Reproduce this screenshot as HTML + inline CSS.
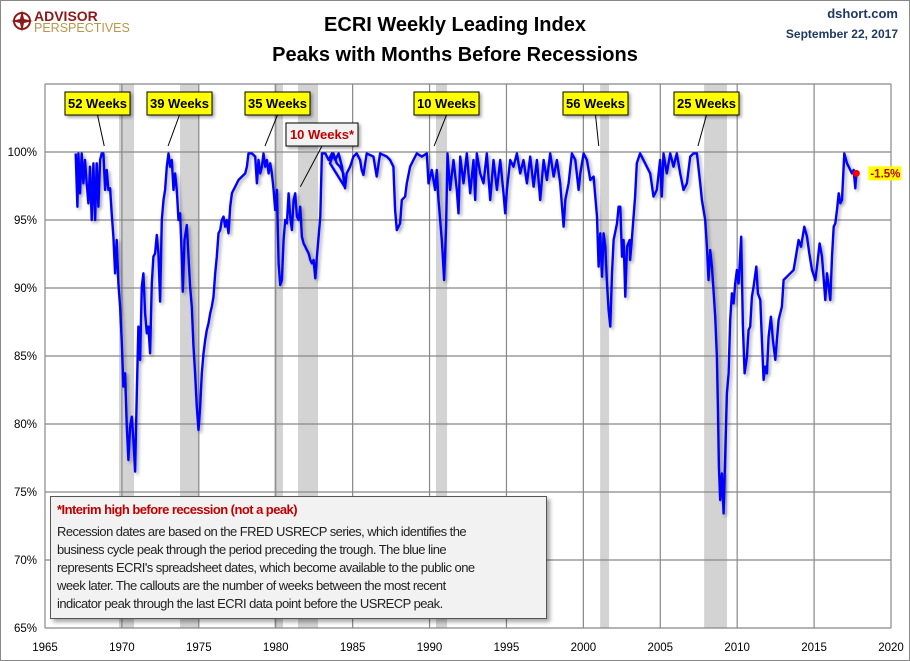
<!DOCTYPE html>
<html><head><meta charset="utf-8"><style>
body{margin:0;background:#fff;}
#wrap{position:relative;width:910px;height:661px;overflow:hidden;font-family:"Liberation Sans",sans-serif;}
svg text{font-family:"Liberation Sans",sans-serif;}
</style></head><body>
<div id="wrap">
<svg id="chart" width="910" height="661">
<defs>
<filter id="sh" x="-10%" y="-10%" width="130%" height="130%"><feDropShadow dx="2" dy="2" stdDeviation="1.5" flood-color="#000" flood-opacity="0.35"/></filter>
</defs>
<rect x="0.5" y="0.5" width="909" height="660" fill="#fff" stroke="#888"/>
<g>
<circle cx="22" cy="21" r="8" fill="none" stroke="#8b1a1a" stroke-width="2"/>
<path d="M22 10 L24 19 L33 21 L24 23 L22 32 L20 23 L11 21 L20 19 Z" fill="#8b1a1a"/>
<text x="34" y="21" font-size="14" font-weight="bold" fill="#8b1a1a">ADVISOR</text>
<text x="34" y="32" font-size="12.5" fill="#b8964a">PERSPECTIVES</text>
</g>
<text x="455" y="31" text-anchor="middle" font-size="20" font-weight="bold" fill="#000">ECRI Weekly Leading Index</text>
<text x="455" y="61" text-anchor="middle" font-size="20" font-weight="bold" fill="#000">Peaks with Months Before Recessions</text>
<text x="898" y="18" text-anchor="end" font-size="13" font-weight="bold" fill="#1f3864">dshort.com</text>
<text x="898" y="38" text-anchor="end" font-size="12" font-weight="bold" fill="#1f3864">September 22, 2017</text>
<g id="rec"></g><g id="grid"></g><g id="axes"></g><g id="series"></g><g id="callouts"></g>
</svg>
<div style="position:absolute;left:50px;top:496px;width:483px;height:113px;background:#f2f2f2;border:1px solid #555;box-shadow:3px 3px 4px rgba(0,0,0,0.35);padding:4px 6px;font-size:13px;line-height:18px;color:#222;letter-spacing:-0.55px;white-space:nowrap;overflow:hidden;">
<div style="color:#c00000;font-weight:bold;margin-bottom:4px;">*Interim high before recession (not a peak)</div>
<div>Recession dates are based on the FRED USRECP series, which identifies the<br>business cycle peak through the period preceding the trough. The blue line<br>represents ECRI's spreadsheet dates, which become available to the public one<br>week later. The callouts are the number of weeks between the most recent<br>indicator peak through the last ECRI data point before the USRECP peak.</div>
</div>
</div>
<script>
const xTicks=[1965,1970,1975,1980,1985,1990,1995,2000,2005,2010,2015,2020];
const yTicks=[65,70,75,80,85,90,95,100,105];
const recStart=[1969.81,1973.78,1979.89,1981.45,1990.42,2001.09,2007.85];
const recEnd=[1970.79,1975.01,1980.47,1982.75,1991.14,2001.67,2009.34];
const z4=[[92,40],[97,200],[100,40],[105,160],[110,40],[115,130],[120,60],[125,130],[130,190],[135,80],[140,240],[145,70],[150,240],[155,70],[160,200],[165,60],[170,40],[175,40],[180,150],[185,90],[190,150],[195,145],[200,220],[205,290],[210,400],[215,300],[220,430],[225,500],[230,600],[235,740],[240,700],[245,860],[250,960],[255,860],[260,830],[265,900],[270,995],[275,760],[280,560],[285,660],[290,440],[295,400],[300,520],[305,580],[310,560],[315,640],[320,430],[325,350],[330,340],[335,285],[340,340],[345,485],[350,240],[355,180],[360,150],[365,80],[370,40],[375,80],[380,60],[385,150],[390,100],[395,150],[400,240],[405,220],[410,350],[413,455],[418,300],[425,255],[430,350],[435,440],[440,500],[445,620],[450,700],[455,800],[460,870],[465,800],[470,700],[475,640],[480,600],[485,570],[490,550],[495,520],[500,500],[505,470],[510,400],[515,350],[520,280],[525,270],[530,240],[535,230],[540,260],[545,240],[550,280],[555,200],[560,160],[565,150],[570,140],[580,120],[590,110],[600,100],[605,80],[610,40],[620,40],[630,50],[635,130],[640,60],[645,100],[650,80],[655,40],[660,80],[665,60],[670,100],[675,70],[680,100],[685,150],[690,210],[695,150],[700,370],[705,435],[710,420],[715,300],[720,240],[725,250],[730,160],[735,230],[740,270],[745,180],[750,160],[755,230],[760,240],[765,200],[770,290],[775,310],[780,320],[785,330],[790,340],[795,360],[800,370],[805,360],[810,415],[815,350],[820,290],[825,230],[830,40],[840,40],[850,60],[860,40],[870,60],[880,40],[890,80],[898,140]];
const z5=[[0,70],[10,40],[20,70],[30,80],[40,100],[45,145],[50,100],[60,80],[70,50],[80,40],[90,60],[95,90],[100,105],[110,40],[130,50],[140,110],[150,40],[170,50],[180,60],[190,80],[195,210],[200,270],[210,250],[215,180],[225,170],[230,130],[240,80],[250,60],[260,40],[275,50],[290,40],[295,130],[305,90],[315,150],[320,90],[325,180],[335,300],[338,350],[342,420],[348,260],[352,40],[360,150],[370,60],[380,150],[385,220],[390,50],[400,130],[410,40],[420,160],[430,60],[435,180],[440,40],[450,100],[460,130],[470,40],[480,180],[490,60],[500,150],[510,60],[520,160],[525,220],[530,150],[540,60],[550,80],[560,40],[570,100],[580,60],[590,130],[600,50],[610,140],[620,60],[630,180],[640,60],[650,120],[660,40],[670,110],[680,60],[690,130],[700,260],[705,180],[715,130],[725,40],[735,60],[745,150],[750,100],[760,40],[770,60],[780,120],[790,110],[795,170],[800,230],[805,380],[810,280],[815,410],[820,280],[825,320],[830,430],[835,510],[840,560],[845,400],[850,300],[860,250],[865,200],[870,200],[875,350],[880,300],[885,470],[890,320],[898,300]];
const z6=[[0,360],[5,300],[15,170],[20,70],[30,40],[45,70],[60,100],[70,170],[80,150],[90,60],[95,170],[100,40],[110,100],[120,40],[130,80],[140,40],[150,100],[160,150],[170,130],[180,50],[190,40],[200,40],[210,130],[215,180],[225,240],[230,320],[235,420],[240,330],[245,380],[250,450],[255,530],[260,650],[263,800],[266,980],[270,1080],[275,1000],[280,1120],[285,950],[290,760],[295,700],[300,540],[305,460],[310,490],[315,430],[320,390],[325,430],[333,290],[338,560],[343,700],[350,650],[355,570],[360,560],[365,470],[370,440],[378,380],[383,460],[390,480],[395,600],[400,720],[405,680],[410,700],[415,590],[422,530],[428,600],[435,660],[440,600],[445,540],[455,500],[460,420],[470,410],[480,400],[490,390],[495,360],[505,300],[512,320],[522,260],[530,290],[537,340],[545,390],[555,420],[560,380],[568,310],[575,350],[585,480],[590,400],[595,440],[600,480],[605,350],[610,260],[615,250],[620,210],[625,160],[630,190],[635,180],[642,40],[650,70],[655,80],[660,90],[665,100],[670,90],[675,145],[678,100]];
const years=[],values=[];
[[z4,1965],[z5,1983.53],[z6,2003.04]].forEach(([arr,y0])=>arr.forEach(p=>{years.push(+(y0+p[0]/46.1).toFixed(3));values.push(+(100-(p[1]-36)/40.8).toFixed(2));}));
const calloutLabels=["52 Weeks","39 Weeks","35 Weeks","10 Weeks*","10 Weeks","56 Weeks","25 Weeks"];
const calloutPeakYear=[1968.85,1973.0,1979.3,1981.6,1990.3,2001.0,2007.45];
const calloutPeakVal=[100,100,100,97,100,100,100];
const calloutBoxX=[65,147,245,286,414,563,674];
const lastLabel="-1.5%";

const L=45,R=891,T=84,B=628;
const x=v=>L+(v-1965)/55*(R-L);
const y=v=>B-(v-65)/40*(B-T);
const NS="http://www.w3.org/2000/svg";
function mk(tag,attrs,parent){const e=document.createElementNS(NS,tag);for(const k in attrs)e.setAttribute(k,attrs[k]);parent.appendChild(e);return e;}
const gR=document.getElementById('rec'),gG=document.getElementById('grid'),gA=document.getElementById('axes'),gS=document.getElementById('series'),gC=document.getElementById('callouts');
recStart.forEach((s,i)=>{const r=mk('rect',{x:x(s),y:T,width:x(recEnd[i])-x(s),height:B-T,fill:'#d3d3d3'},gR);

});
xTicks.forEach(t=>{const l=mk('line',{x1:x(t),x2:x(t),y1:T,y2:B,stroke:'#888','stroke-width':1.2},gG);


const tx=mk('text',{x:x(t),y:651,'text-anchor':'middle','font-size':11.5,fill:'#000'},gA);tx.textContent=t;

});
yTicks.forEach(t=>{const l=mk('line',{x1:L,x2:R,y1:y(t),y2:y(t),stroke:'#888','stroke-width':1.2},gG);


if(t<105){const tx=mk('text',{x:37,y:y(t)+4,'text-anchor':'end','font-size':11.5,fill:'#000'},gA);tx.textContent=t+'%';

}});
let d='';years.forEach((yr,i)=>{d+=(i?'L':'M')+x(yr).toFixed(1)+' '+y(values[i]).toFixed(1);});
const p=mk('path',{d:d,fill:'none',stroke:'#0000ff','stroke-width':2.4,'stroke-linejoin':'round',filter:'url(#sh)'},gS);


const lx=x(years[years.length-1]),ly=y(values[values.length-1]);
const dot=mk('circle',{cx:lx,cy:ly,r:3.5,fill:'#ff0000'},gS);


const lb=mk('rect',{x:lx+12,y:ly-7,width:33,height:14,fill:'#ffff00'},gS);


const lt=mk('text',{x:lx+14,y:ly+4,'font-size':11.5,'font-weight':'bold',fill:'#c00000'},gS);lt.textContent=lastLabel;


calloutLabels.forEach((lab,i)=>{const interim=lab.indexOf('*')>=0;const bx=calloutBoxX[i];const by=interim?123:92;const w=interim?72:65;
const ln=mk('line',{x1:bx+w/2,y1:by+23,x2:x(calloutPeakYear[i]),y2:y(calloutPeakVal[i])-6,stroke:'#000','stroke-width':1},gC);


const r=mk('rect',{x:bx,y:by,width:w,height:23,fill:interim?'#f2f2f2':'#ffff00',stroke:'#000','stroke-width':1,filter:'url(#sh)'},gC);


const t=mk('text',{x:bx+w/2,y:by+16,'text-anchor':'middle','font-size':13,'font-weight':'bold',fill:interim?'#c00000':'#000'},gC);t.textContent=lab;

});
</script>
</body></html>
